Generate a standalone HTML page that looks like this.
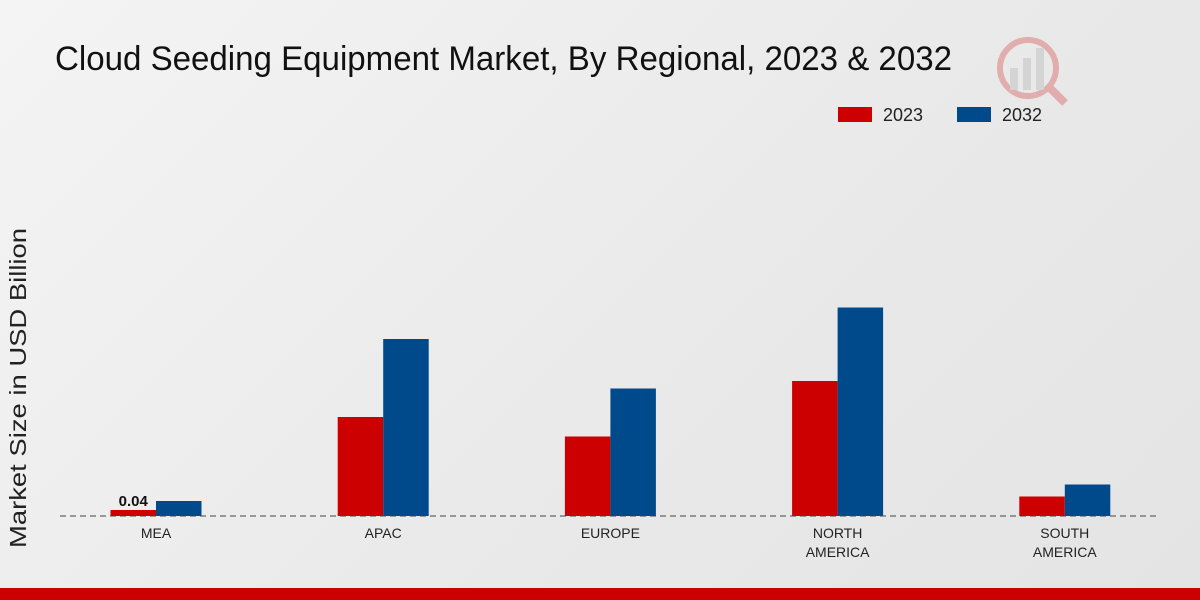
<!DOCTYPE html>
<html><head><meta charset="utf-8">
<style>
html,body{margin:0;padding:0;}
body{width:1200px;height:600px;overflow:hidden;background:linear-gradient(135deg,#f4f4f4 0%,#e9e9e9 60%,#e4e4e4 100%);font-family:"Liberation Sans",sans-serif;}
svg{display:block;}
</style></head>
<body>
<svg id="chart" width="1200" height="600" xmlns="http://www.w3.org/2000/svg">
  <text x="55" y="70" font-size="34" textLength="897" lengthAdjust="spacingAndGlyphs" fill="#111">Cloud Seeding Equipment Market, By Regional, 2023 &amp; 2032</text>
  <g opacity="0.25">
    <circle cx="1028" cy="68" r="28" fill="none" stroke="#c00" stroke-width="6"/>
    <rect x="1010" y="68" width="8" height="22" fill="#999"/>
    <rect x="1023" y="58" width="8" height="32" fill="#999"/>
    <rect x="1036" y="48" width="8" height="42" fill="#999"/>
    <line x1="1050" y1="88" x2="1065" y2="103" stroke="#c00" stroke-width="8"/>
  </g>
  <g>
    <rect x="838" y="107" width="34" height="15" fill="#cc0000"/>
    <text x="883" y="121" font-size="18" fill="#222">2023</text>
    <rect x="957" y="107" width="34" height="15" fill="#004a8c"/>
    <text x="1002" y="121" font-size="18" fill="#222">2032</text>
  </g>
  <text transform="translate(26,388) rotate(-90)" text-anchor="middle" font-size="23" textLength="320" lengthAdjust="spacingAndGlyphs" fill="#222">Market Size in USD Billion</text>
  <g id="bars"></g>
  <line x1="60" y1="516" x2="1160" y2="516" stroke="#444" stroke-width="1" stroke-dasharray="6,4"/>
  <g id="labels"></g>
  <rect x="0" y="588" width="1200" height="12" fill="#cc0000"/>
</svg>
<script>
const categories = [["MEA"],["APAC"],["EUROPE"],["NORTH","AMERICA"],["SOUTH","AMERICA"]];
const values2023 = [0.04, 0.66, 0.53, 0.90, 0.13];
const values2032 = [0.10, 1.18, 0.85, 1.39, 0.21];
const valueLabels = ["0.04", null, null, null, null];

const NS = "http://www.w3.org/2000/svg";
const baseY = 516, pxPerUnit = 150, barW = 45.5;
function xCenter(i){ return 156 + i * 227.2; }
function yScale(v){ return baseY - v * pxPerUnit; }
const bars = document.getElementById('bars');
const labels = document.getElementById('labels');
function addBar(x, v, color, name){
  const r = document.createElementNS(NS,'rect');
  r.setAttribute('x', x); r.setAttribute('y', yScale(v));
  r.setAttribute('width', barW); r.setAttribute('height', baseY - yScale(v));
  r.setAttribute('fill', color);
  
  
  bars.appendChild(r);
}
categories.forEach((c, i) => {
  const cx = xCenter(i);
  addBar(cx - barW, values2023[i], '#cc0000', 'bar-2023-' + c.join('-').toLowerCase());
  addBar(cx, values2032[i], '#004a8c', 'bar-2032-' + c.join('-').toLowerCase());
  if (valueLabels[i]) {
    const t = document.createElementNS(NS,'text');
    t.setAttribute('x', cx - barW/2); t.setAttribute('y', yScale(values2023[i]) - 4);
    t.setAttribute('text-anchor','middle'); t.setAttribute('font-size','15'); t.setAttribute('font-weight','bold'); t.setAttribute('fill','#111');
    t.textContent = valueLabels[i];
    
    
    labels.appendChild(t);
  }
  c.forEach((line, j) => {
    const t = document.createElementNS(NS,'text');
    t.setAttribute('x', cx); t.setAttribute('y', 538 + j * 19);
    t.setAttribute('text-anchor','middle'); t.setAttribute('font-size','14'); t.setAttribute('fill','#222');
    t.textContent = line;
    
    
    labels.appendChild(t);
  });
});
</script>
</body></html>
